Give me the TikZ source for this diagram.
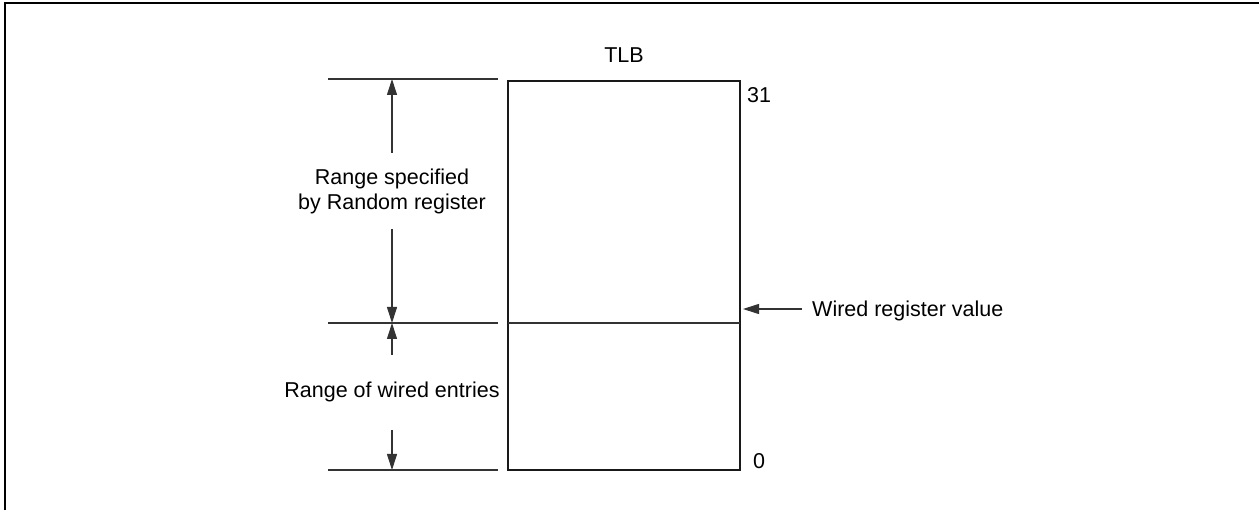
\documentclass[tikz,border=0pt]{standalone}
\usepackage{fontspec}
\setmainfont{Liberation Sans}
\usetikzlibrary{arrows.meta}
\begin{document}
\begin{tikzpicture}[x=1pt,y=-1pt,
  thinline/.style={line width=1.1pt,draw=black!80},
  boxline/.style={line width=2.2pt,draw=black!90},
  dimarrow/.style={thinline,-{Triangle[length=16pt,width=10pt]}},
  lbl/.style={inner sep=0pt,font=\fontsize{21.5}{25}\selectfont},
  frameline/.style={line width=2.5pt,draw=black}]
\useasboundingbox (0,0) rectangle (1259,510);
% frame
\coordinate (fbl) at (5,512);
\coordinate (ftl) at (5,3);
\coordinate (ftr) at (1261,3);
\draw[frameline] (fbl) -- (ftl) -- (ftr);
% TLB box
\coordinate (btl) at (508,81);
\coordinate (bbr) at (740,470);
\coordinate (bml) at (508,323);
\coordinate (bmr) at (740,323);
\draw[boxline] (btl) rectangle (bbr);
\draw[thinline] (bml) -- (bmr);
% extension lines
\coordinate (e1a) at (328,79);
\coordinate (e1b) at (498,79);
\coordinate (e2a) at (328,323);
\coordinate (e2b) at (498,323);
\coordinate (e3a) at (328,470);
\coordinate (e3b) at (498,470);
\draw[thinline] (e1a) -- (e1b);
\draw[thinline] (e2a) -- (e2b);
\draw[thinline] (e3a) -- (e3b);
% labels
\node[lbl,anchor=base] (tlb) at (624,63) {TLB};
\node[lbl,anchor=base west] (n31) at (747,103) {31};
\node[lbl,anchor=base west] (n0) at (753,468) {0};
\node[lbl,align=center] (rnd) at (392,191) {Range specified\\by Random register};
\node[lbl,anchor=base] (wrd) at (392,398) {Range of wired entries};
\node[lbl,anchor=base west] (wrv) at (812,317) {Wired register value};
% dimension arrows
\coordinate (a1t) at (392,79);
\coordinate (a1s) at (392,153);
\coordinate (a2s) at (392,229);
\coordinate (a2t) at (392,323);
\coordinate (a3s) at (392,355);
\coordinate (a4s) at (392,430);
\coordinate (a4t) at (392,470);
\draw[dimarrow] (a1s) -- (a1t);
\draw[dimarrow] (a2s) -- (a2t);
\draw[dimarrow] (a3s) -- (a2t);
\draw[dimarrow] (a4s) -- (a4t);
% wired register arrow
\coordinate (ws) at (802,309);
\coordinate (wt) at (743,309);
\draw[dimarrow] (ws) -- (wt);
\end{tikzpicture}
\end{document}
